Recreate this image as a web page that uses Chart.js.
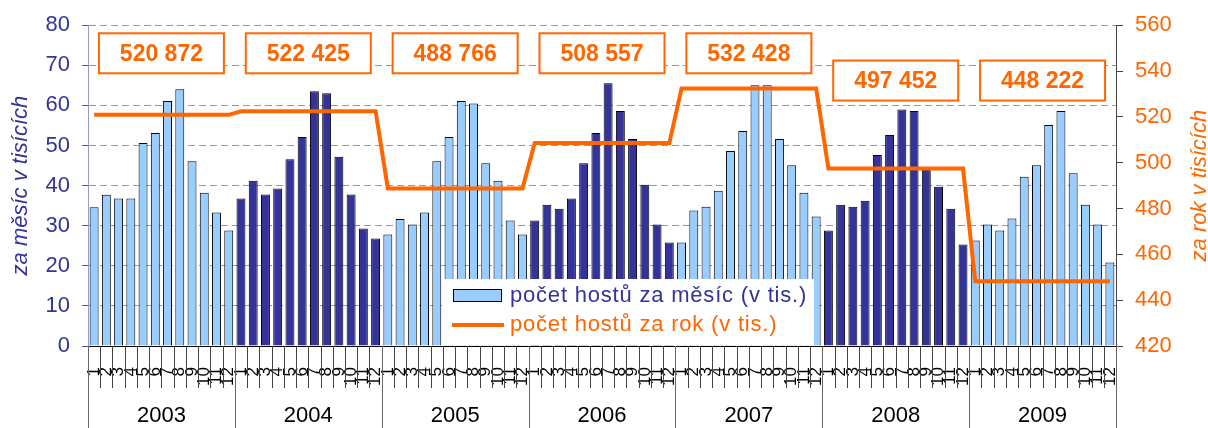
<!DOCTYPE html>
<html>
<head>
<meta charset="utf-8">
<script src="https://cdn.jsdelivr.net/npm/chart.js@4.4.0/dist/chart.umd.min.js"></script>
<style>
    html, body { margin: 0; padding: 0; background: #fff; }
    #wrap { width: 1208px; height: 428px; }
</style>
</head>
<body>
<div id="wrap"><canvas id="hoste" width="1208" height="428"></canvas></div>
<script>
// data (thousands of guests)
const roky = ['2003', '2004', '2005', '2006', '2007', '2008', '2009'];
const mesice = ['1', '2', '3', '4', '5', '6', '7', '8', '9', '10', '11', '12'];
const hoste2003 = [34.6, 37.7, 36.8, 36.8, 50.6, 53.1, 61.1, 64.0, 46.1, 38.2, 33.3, 28.8];
const hoste2004 = [36.8, 41.2, 37.8, 39.3, 46.6, 52.1, 63.5, 63.0, 47.2, 37.8, 29.3, 26.8];
const hoste2005 = [27.8, 31.7, 30.3, 33.3, 46.1, 52.1, 61.1, 60.5, 45.6, 41.2, 31.3, 27.8];
const hoste2006 = [31.3, 35.2, 34.2, 36.8, 45.6, 53.1, 65.5, 58.6, 51.6, 40.2, 30.3, 25.8];
const hoste2007 = [25.8, 33.8, 34.7, 38.7, 48.6, 53.6, 65.0, 65.0, 51.6, 45.1, 38.2, 32.3];
const hoste2008 = [28.8, 35.2, 34.7, 36.2, 47.6, 52.6, 59.0, 58.6, 44.6, 39.7, 34.2, 25.3];
const hoste2009 = [26.3, 30.3, 28.8, 31.8, 42.2, 45.1, 55.1, 58.6, 43.1, 35.2, 30.3, 20.8];
const hosteZaRok = [520.872, 522.425, 488.766, 508.557, 532.428, 497.452, 448.222];

const FONT = "'Liberation Sans', Arial, sans-serif";
const MODRA = '#333399';
const SVETLA = '#99CCFF';
const ORANZ = '#FF6600';

const popiskyOsy = roky.flatMap(() => mesice);
const mesicni = [hoste2003, hoste2004, hoste2005, hoste2006, hoste2007, hoste2008, hoste2009].flat();
const rocni = hosteZaRok.flatMap(v => mesice.map(() => v));
const barvySloupcu = mesicni.map((v, i) => Math.floor(i / 12) % 2 === 0 ? SVETLA : MODRA);

function formatTisice(v) {
    const n = String(Math.round(v * 1000));
    return n.replace(/\B(?=(\d{3})+(?!\d))/g, ' ');
}

const dekorace = {
    id: 'dekorace',
    afterDatasetsDraw(chart) {
        const ctx = chart.ctx;
        const area = chart.chartArea;
        const x = chart.scales.x;
        const y = chart.scales.y;

        // yearly value boxes
        const hladinaBoxu = [73, 73, 73, 73, 73, 66.2, 66.2];
        ctx.save();
        roky.forEach((rok, i) => {
            const cx = (x.getPixelForValue(i * 12) + x.getPixelForValue(i * 12 + 11)) / 2;
            const cy = y.getPixelForValue(hladinaBoxu[i]);
            const w = 125, h = 40;
            ctx.fillStyle = '#fff';
            ctx.fillRect(cx - w / 2, cy - h / 2, w, h);
            ctx.strokeStyle = ORANZ;
            ctx.lineWidth = 2;
            ctx.strokeRect(cx - w / 2, cy - h / 2, w, h);
            ctx.fillStyle = ORANZ;
            ctx.font = 'bold 23px ' + FONT;
            ctx.textAlign = 'center';
            ctx.textBaseline = 'middle';
            ctx.fillText(formatTisice(hosteZaRok[i]), cx, cy + 1);
        });

        // legend inside the plot
        const lx = area.left + 354, ly = area.bottom - 67;
        ctx.fillStyle = '#fff';
        ctx.fillRect(lx, ly, 372, 66);
        ctx.fillStyle = SVETLA;
        ctx.fillRect(lx + 11, ly + 10, 49, 13);
        ctx.strokeStyle = '#000';
        ctx.lineWidth = 1;
        ctx.strokeRect(lx + 11.5, ly + 10.5, 48, 12);
        ctx.strokeStyle = ORANZ;
        ctx.lineWidth = 4;
        ctx.beginPath();
        ctx.moveTo(lx + 10, ly + 46);
        ctx.lineTo(lx + 62, ly + 46);
        ctx.stroke();
        ctx.font = '22px ' + FONT;
        ctx.letterSpacing = '0.8px';
        ctx.textAlign = 'left';
        ctx.textBaseline = 'middle';
        ctx.fillStyle = MODRA;
        ctx.fillText('počet hostů za měsíc (v tis.)', lx + 68, ly + 17);
        ctx.fillStyle = ORANZ;
        ctx.fillText('počet hostů za rok (v tis.)', lx + 68, ly + 46);
        ctx.restore();
    },
    afterDraw(chart) {
        const ctx = chart.ctx;
        const area = chart.chartArea;
        const x = chart.scales.x;
        const krok = x.getPixelForValue(1) - x.getPixelForValue(0);
        const start = x.getPixelForValue(0) - krok / 2;

        ctx.save();
        // month / year separators below the axis
        for (let i = 0; i <= popiskyOsy.length; i++) {
            const px = Math.round(start + i * krok) + 0.5;
            const rokovy = i % 12 === 0;
            ctx.strokeStyle = rokovy ? '#666' : '#444';
            ctx.lineWidth = 1;
            ctx.beginPath();
            ctx.moveTo(px, area.bottom);
            ctx.lineTo(px, rokovy ? chart.height : area.bottom + 42);
            ctx.stroke();
        }
        // year labels
        ctx.fillStyle = '#000';
        ctx.font = '22px ' + FONT;
        ctx.textAlign = 'center';
        ctx.textBaseline = 'middle';
        roky.forEach((rok, i) => {
            const cx = start + (i * 12 + 6) * krok;
            ctx.fillText(rok, cx, area.bottom + 70);
        });

        // axis titles, both reading bottom to top
        const stred = (area.top + area.bottom) / 2;
        ctx.font = 'italic 22px ' + FONT;
        ctx.textBaseline = 'alphabetic';
        ctx.save();
        ctx.translate(27, stred);
        ctx.rotate(-Math.PI / 2);
        ctx.fillStyle = MODRA;
        ctx.fillText('za měsíc v tisících', 0, 0);
        ctx.restore();
        ctx.save();
        ctx.translate(1206, stred);
        ctx.rotate(-Math.PI / 2);
        ctx.fillStyle = ORANZ;
        ctx.fillText('za rok v tisících', 0, 0);
        ctx.restore();
        ctx.restore();
    }
};

new Chart(document.getElementById('hoste'), {
    type: 'bar',
    data: {
        labels: popiskyOsy,
        datasets: [
            {
                type: 'line',
                label: 'počet hostů za rok (v tis.)',
                data: rocni,
                yAxisID: 'y2',
                borderColor: ORANZ,
                borderWidth: 4,
                pointRadius: 0,
                tension: 0,
                order: 0
            },
            {
                label: 'počet hostů za měsíc (v tis.)',
                data: mesicni,
                yAxisID: 'y',
                backgroundColor: barvySloupcu,
                borderColor: '#000',
                borderWidth: 1,
                barPercentage: 0.73,
                categoryPercentage: 1,
                order: 1
            }
        ]
    },
    options: {
        responsive: false,
        animation: false,
        layout: { padding: { top: 24, bottom: 0, left: 0, right: 0 } },
        plugins: {
            legend: { display: false },
            tooltip: { enabled: false }
        },
        scales: {
            x: {
                grid: { display: false },
                border: { color: '#000', width: 1 },
                ticks: {
                    autoSkip: false,
                    minRotation: 90,
                    maxRotation: 90,
                    padding: 13,
                    color: '#000',
                    font: { family: FONT, size: 17 }
                },
                afterFit(scale) { scale.height = 82; }
            },
            y: {
                position: 'left',
                min: 0,
                max: 80,
                ticks: {
                    stepSize: 10,
                    padding: 12,
                    color: MODRA,
                    font: { family: FONT, size: 22 }
                },
                grid: {
                    color: ctx => ctx.tick && ctx.tick.value === 0 ? 'rgba(0,0,0,0)' : '#999',
                    tickColor: '#555588',
                    tickLength: 6,
                    tickBorderDash: []
                },
                border: { color: '#9999cc', dash: [7, 4] },
                afterFit(scale) { scale.width = 88; }
            },
            y2: {
                position: 'right',
                min: 420,
                max: 560,
                ticks: {
                    stepSize: 20,
                    padding: 12,
                    color: ORANZ,
                    font: { family: FONT, size: 22 }
                },
                grid: { drawOnChartArea: false, tickLength: 7, color: '#444' },
                border: { color: '#444' },
                afterFit(scale) { scale.width = 92; }
            }
        }
    },
    plugins: [dekorace]
});
</script>
</body>
</html>
